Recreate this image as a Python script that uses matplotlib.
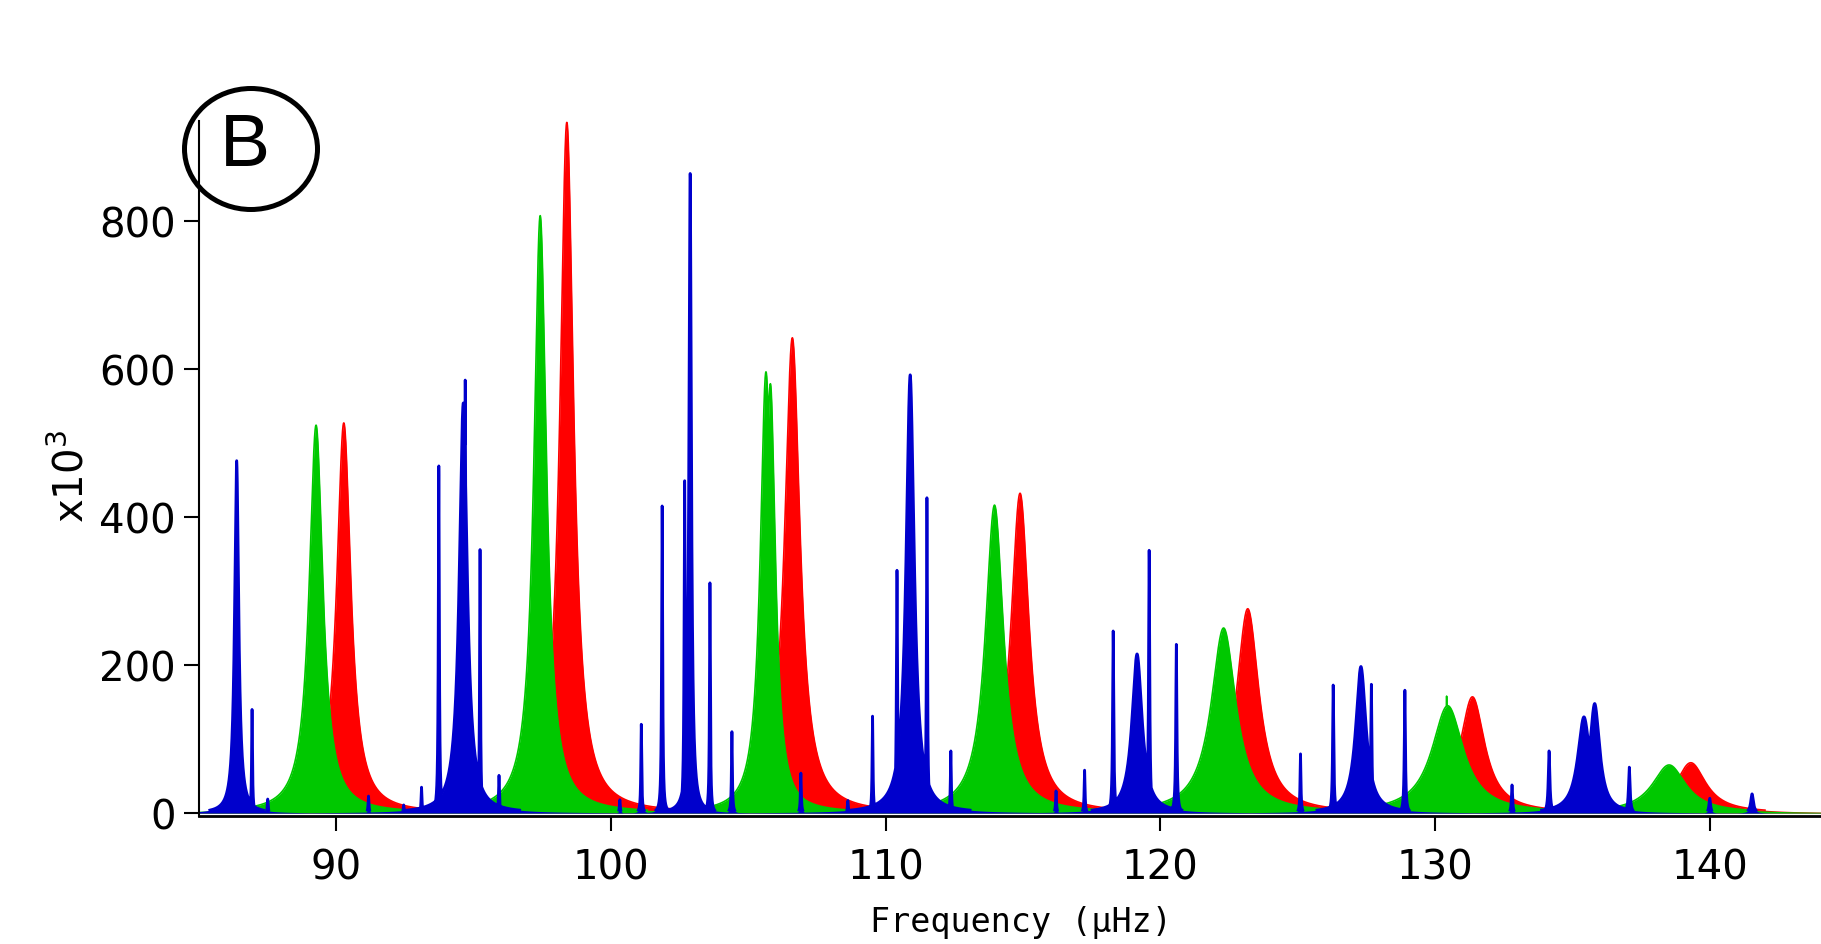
import numpy as np
import matplotlib
matplotlib.use("Agg")
import matplotlib.pyplot as plt
from matplotlib.patches import Ellipse

# mode parameters: centre frequency (uHz), peak height (x10^3), linewidth (uHz)
l0_freq = [90.27, 98.39, 106.60, 114.89, 123.18, 131.36, 139.31]
l0_height = [527, 933, 642, 432, 276, 157, 68]
l0_width = [0.62, 0.60, 0.68, 0.80, 1.00, 1.10, 1.35]

l2_freq = [89.26, 97.42, 105.64, 105.80, 113.96, 122.30, 130.46, 130.42, 138.52]
l2_height = [524, 807, 596, 580, 416, 250, 145, 158, 65]
l2_width = [0.60, 0.55, 0.50, 0.45, 0.80, 1.10, 1.40, 0.05, 1.50]

l1_freq = [86.37, 86.93, 87.50, 91.17, 92.45, 93.10, 93.73, 94.62, 94.69,
           95.23, 95.92, 100.32, 101.10, 101.86, 102.68, 102.88, 103.60,
           104.40, 106.91, 108.62, 109.52, 110.41, 110.89, 111.50, 112.37,
           116.20, 117.24, 118.28, 119.15, 119.59, 120.58, 125.10, 126.29,
           127.30, 127.68, 128.90, 132.80, 134.15, 135.42, 135.81, 137.07,
           140.00, 141.54]
l1_height = [476, 140, 19, 23, 11, 35, 469, 554, 585,
             356, 51, 18, 120, 415, 449, 864, 311,
             110, 54, 17, 131, 328, 592, 426, 84,
             30, 58, 246, 215, 355, 228, 80, 173,
             198, 174, 166, 38, 84, 130, 148, 62,
             20, 26]
l1_width = [0.18, 0.04, 0.04, 0.04, 0.04, 0.04, 0.045, 0.35, 0.05,
            0.04, 0.04, 0.04, 0.04, 0.045, 0.05, 0.11, 0.04,
            0.04, 0.04, 0.04, 0.04, 0.05, 0.36, 0.045, 0.04,
            0.04, 0.04, 0.05, 0.45, 0.05, 0.05, 0.04, 0.05,
            0.46, 0.05, 0.05, 0.05, 0.07, 0.55, 0.45, 0.07,
            0.07, 0.12]

freq = np.linspace(85, 144.5, 60000)


def spectrum(f0, h, w):
    f0, h, w = (np.asarray(a, float)[:, None] for a in (f0, h, w))
    prof = h / (1 + (2 * (freq[None, :] - f0) / w) ** 2)
    return prof.max(axis=0)


plt.rcParams['font.family'] = ['DejaVu Sans']

fig = plt.figure(figsize=(18.21, 9.45), dpi=100)
ax = fig.add_axes([0.1093, 0.1354, 0.8907, 0.7356])

layers = [(l0_freq, l0_height, l0_width, '#ff0000', 1.2),
          (l2_freq, l2_height, l2_width, '#00c800', 1.2),
          (l1_freq, l1_height, l1_width, '#0000cc', 2.0)]
for i, (f0, h, w, col, lw) in enumerate(layers):
    p = spectrum(f0, h, w)
    ax.fill_between(freq, 0, p, color=col, lw=0, zorder=2 * i + 1)
    # outline only the raised parts so thin spikes stay visible
    ax.plot(freq, np.where(p > 4, p, np.nan), color=col, lw=lw,
            zorder=2 * i + 2)

ax.set_xlim(85, 144.05)
ax.set_ylim(-4, 935)
ax.set_xticks(range(90, 141, 10))
ax.set_yticks(range(0, 801, 200))
for s in ['top', 'right']:
    ax.spines[s].set_visible(False)
ax.spines['left'].set_linewidth(1.5)
ax.spines['bottom'].set_linewidth(2)
ax.spines['left'].set_zorder(10)
ax.spines['bottom'].set_zorder(10)
ax.tick_params(direction='out', length=11, width=1.5, labelsize=29, pad=6)
ax.tick_params(axis='x', pad=12)
ax.set_xlabel('Frequency (μHz)', fontsize=24, labelpad=12,
              family='DejaVu Sans Mono')
ax.xaxis.label.set_x(0.507)

fig.text(72 / 1821, 1 - 476 / 945, 'x10$^{3}$', rotation=90, fontsize=29,
         ha='center', va='center')

# panel tag
fig.patches.append(Ellipse((251 / 1821, 1 - 150 / 945), 133 / 1821, 121 / 945,
                           transform=fig.transFigure, fill=False, lw=3.6,
                           color='black'))
fig.text(245 / 1821, 1 - 147 / 945, 'B', fontsize=54, ha='center', va='center',
         family='Liberation Sans')

fig.savefig('out.png', dpi=100)
